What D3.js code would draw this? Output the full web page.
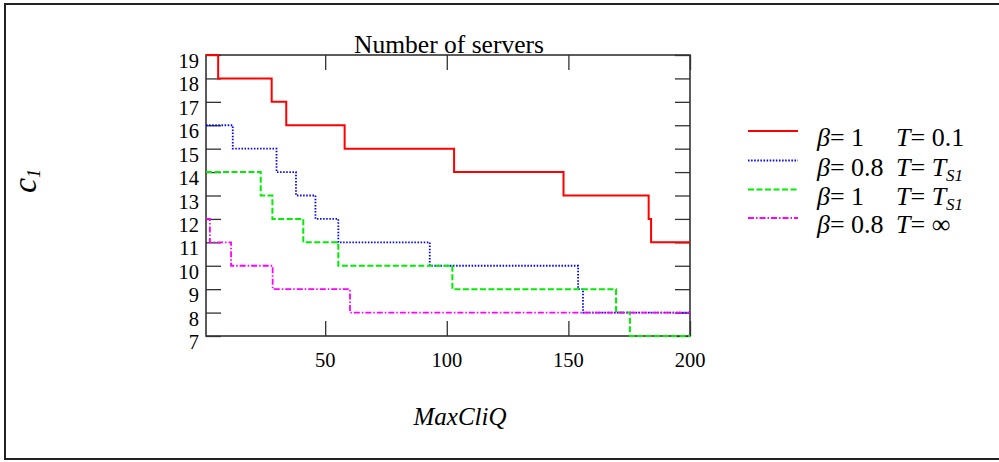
<!DOCTYPE html>
<html>
<head>
<meta charset="utf-8">
<script src="https://cdn.jsdelivr.net/npm/d3@7"></script>
<style>
  html, body { margin: 0; padding: 0; background: #fff; }
  svg { display: block; font-family: "Liberation Serif", "Times New Roman", serif; }
</style>
</head>
<body>
<svg id="chart" width="999" height="462"></svg>
<script>
// Step breakpoints: MaxCliQ where c1 takes each new value
const redX = [1, 6, 28, 34, 58, 103, 148, 183, 184];
const redY = [19, 18, 17, 16, 15, 14, 13, 12, 11];
const blueX = [1, 12, 30, 38, 46, 55.4, 93, 154, 156];
const blueY = [16, 15, 14, 13, 12, 11, 10, 9, 8];
const greenX = [1, 23.5, 28.3, 41, 55.4, 102.3, 169.6, 175.3];
const greenY = [14, 13, 12, 11, 10, 9, 8, 7];
const magentaX = [1, 2.6, 11.3, 28.4, 60.2];
const magentaY = [12, 11, 10, 9, 8];

const xDomain = [1, 200];
const yDomain = [7, 19];
const xTicks = [50, 100, 150, 200];
const yTicks = [7, 8, 9, 10, 11, 12, 13, 14, 15, 16, 17, 18, 19];

const seriesDefs = [
  { xs: redX, ys: redY, color: "#ff0000", dash: null, width: 2, beta: "1", tval: "0.1", tsub: false },
  { xs: blueX, ys: blueY, color: "#0000ff", dash: "1.5,1.6", width: 1.8, beta: "0.8", tval: "T", tsub: true },
  { xs: greenX, ys: greenY, color: "#00ee00", dash: "6,2.5", width: 2, beta: "1", tval: "T", tsub: true },
  { xs: magentaX, ys: magentaY, color: "#ff00ff", dash: "6,2,1.5,2", width: 1.8, beta: "0.8", tval: "\u221e", tsub: false }
];

const svg = d3.select("#chart");
svg.append("rect").attr("width", 999).attr("height", 462).attr("fill", "#fff");

// outer frame
svg.append("rect")
  .attr("x", 5).attr("y", 4).attr("width", 1000).attr("height", 455)
  .attr("fill", "none").attr("stroke", "#222").attr("stroke-width", 2);

const L = 206, R = 690, T = 55, B = 336;
const x = d3.scaleLinear().domain(xDomain).range([L, R]);
const y = d3.scaleLinear().domain(yDomain).range([B, T]);
const tickLen = 15;

const axisColor = "#333";

// axes: ticks pointing inward on all four sides, labels on left and bottom
const gLeft = svg.append("g").attr("transform", `translate(${L},0)`)
  .call(d3.axisRight(y).tickValues(yTicks).tickSize(tickLen).tickFormat(""));
const gRight = svg.append("g").attr("transform", `translate(${R},0)`)
  .call(d3.axisLeft(y).tickValues(yTicks).tickSize(tickLen).tickFormat(""));
const gBottom = svg.append("g").attr("transform", `translate(0,${B})`)
  .call(d3.axisTop(x).tickValues(xTicks).tickSize(tickLen).tickFormat(""));
const gTop = svg.append("g").attr("transform", `translate(0,${T})`)
  .call(d3.axisBottom(x).tickValues(xTicks).tickSize(tickLen).tickFormat(""));
[gLeft, gRight, gBottom, gTop].forEach(g => {
  g.select(".domain").remove();
  g.selectAll(".tick line").attr("stroke", axisColor).attr("stroke-width", 1.3);
});

svg.append("rect")
  .attr("x", L).attr("y", T).attr("width", R - L).attr("height", B - T)
  .attr("fill", "none").attr("stroke", axisColor).attr("stroke-width", 1.6);

// tick labels
svg.append("g").selectAll("text").data(yTicks).join("text")
  .attr("x", L - 7).attr("y", d => y(d) + 13)
  .attr("text-anchor", "end").attr("font-size", 20.5).attr("fill", "#000")
  .text(d => d);
svg.append("g").selectAll("text").data(xTicks).join("text")
  .attr("x", d => x(d)).attr("y", 367)
  .attr("text-anchor", "middle").attr("font-size", 20.5).attr("fill", "#000")
  .text(d => d);

// title and axis titles
svg.append("text").attr("x", (L + R) / 2 + 1).attr("y", 52.5)
  .attr("text-anchor", "middle").attr("font-size", 25.5).text("Number of servers");

svg.append("text").attr("x", 460).attr("y", 425)
  .attr("text-anchor", "middle").attr("font-size", 25).attr("font-style", "italic")
  .text("MaxCliQ");

const yTitle = svg.append("text")
  .attr("transform", "translate(36,193) rotate(-90)")
  .attr("font-style", "italic");
yTitle.append("tspan").attr("font-size", 34).text("c");
yTitle.append("tspan").attr("font-size", 18).attr("dy", 4).text("1");

// series
const line = d3.line().x(d => x(d[0])).y(d => y(d[1])).curve(d3.curveStepAfter);
seriesDefs.forEach(s => {
  const pts = s.xs.map((v, i) => [v, s.ys[i]]);
  pts.push([xDomain[1], s.ys[s.ys.length - 1]]);
  svg.append("path").datum(pts)
    .attr("d", line)
    .attr("fill", "none")
    .attr("stroke", s.color)
    .attr("stroke-width", s.width)
    .attr("stroke-dasharray", s.dash);
});

// legend
const legY = [131, 160.5, 189.5, 218];
const lg = svg.append("g");
seriesDefs.forEach((s, i) => {
  const ly = legY[i];
  lg.append("line")
    .attr("x1", 748).attr("x2", 798).attr("y1", ly).attr("y2", ly)
    .attr("stroke", s.color).attr("stroke-width", s.width)
    .attr("stroke-dasharray", s.dash);
  const t1 = lg.append("text").attr("x", 817).attr("y", ly + 15).attr("font-size", 26);
  t1.append("tspan").attr("font-style", "italic").text("\u03b2");
  t1.append("tspan").text("= " + s.beta);
  const t2 = lg.append("text").attr("x", 896).attr("y", ly + 15).attr("font-size", 26);
  t2.append("tspan").attr("font-style", "italic").text("T");
  t2.append("tspan").text("= ");
  if (s.tsub) {
    t2.append("tspan").attr("font-style", "italic").text(s.tval);
    t2.append("tspan").attr("font-style", "italic").attr("font-size", 17).attr("dy", 5).text("S1");
  } else {
    t2.append("tspan").text(s.tval);
  }
});
</script>
</body>
</html>
